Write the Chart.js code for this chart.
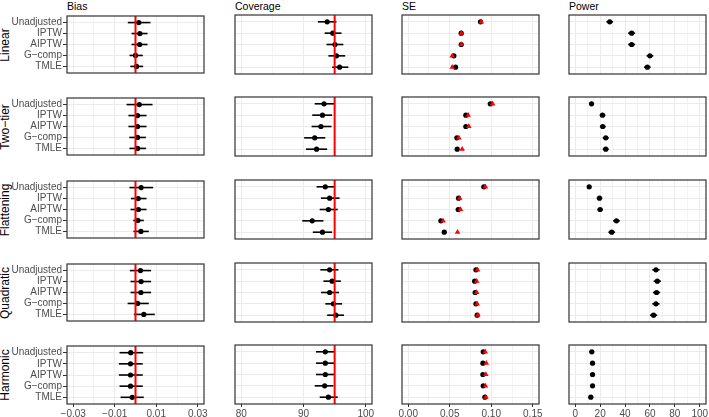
<!DOCTYPE html>
<html>
<head>
<meta charset="utf-8">
<script src="https://cdn.jsdelivr.net/npm/chart.js@4.4.1/dist/chart.umd.min.js"></script>
<style>
  html, body { margin: 0; padding: 0; width: 709px; height: 417px; overflow: hidden; background: #fff; }
  body { position: relative; font-family: "Liberation Sans", Arial, Helvetica, sans-serif; }
  canvas { position: absolute; }
  .colTitle { position: absolute; top: 0; font-size: 10.5px; line-height: 12px; color: #000; white-space: nowrap; }
  .rowTitle { position: absolute; font-size: 12px; line-height: 12px; color: #000; white-space: nowrap;
              transform: translate(-50%, -50%) rotate(-90deg); }
</style>
</head>
<body>
<script>
// categories
const methods = ['Unadjusted', 'IPTW', 'AIPTW', 'G\u2212comp', 'TMLE'];
const scenarios = ['Linear', 'Two\u2212tier', 'Flattening', 'Quadratic', 'Harmonic'];
const metrics = ['Bias', 'Coverage', 'SE', 'Power'];

// Bias (one row per scenario, one value per method)
const biasEst = [
  [0.0016, 0.0021, 0.0020, 0.0000, 0.0005],
  [0.0018, 0.0010, 0.0010, 0.0010, 0.0010],
  [0.0027, 0.0013, 0.0014, 0.0011, 0.0026],
  [0.0024, 0.0027, 0.0026, 0.0010, 0.0040],
  [-0.0023, -0.0024, -0.0024, -0.0024, -0.0016]
];
const biasLo = [
  [-0.0037, -0.0019, -0.0019, -0.0029, -0.0025],
  [-0.0043, -0.0034, -0.0034, -0.0030, -0.0029],
  [-0.0029, -0.0022, -0.0024, -0.0011, -0.0010],
  [-0.0027, -0.0024, -0.0024, -0.0038, -0.0008],
  [-0.0077, -0.0080, -0.0080, -0.0077, -0.0072]
];
const biasHi = [
  [0.0072, 0.0058, 0.0058, 0.0035, 0.0037],
  [0.0082, 0.0053, 0.0053, 0.0050, 0.0051],
  [0.0085, 0.0053, 0.0053, 0.0040, 0.0064],
  [0.0075, 0.0075, 0.0075, 0.0064, 0.0093],
  [0.0037, 0.0035, 0.0035, 0.0035, 0.0040]
];

// Coverage (%)
const covEst = [
  [93.8, 94.7, 95.05, 95.3, 95.8],
  [93.3, 93.05, 92.8, 91.8, 92.1],
  [93.5, 94.2, 94.0, 91.4, 93.05],
  [94.2, 94.6, 94.2, 94.8, 95.2],
  [93.5, 93.5, 93.5, 93.4, 94.0]
];
const covLo = [
  [92.3, 93.4, 93.7, 94.0, 94.6],
  [91.8, 91.4, 91.3, 90.1, 90.4],
  [92.1, 92.8, 92.6, 89.8, 91.5],
  [92.7, 93.2, 92.8, 93.5, 93.8],
  [92.0, 92.0, 92.0, 91.8, 92.6]
];
const covHi = [
  [95.3, 96.1, 96.4, 96.7, 97.2],
  [94.9, 94.6, 94.5, 93.5, 93.8],
  [94.9, 95.8, 95.5, 93.2, 94.6],
  [95.6, 96.0, 95.7, 96.2, 96.5],
  [94.9, 94.9, 94.9, 94.8, 95.5]
];

// SE: empirical (black) and model-based (red)
const seEmp = [
  [0.0870, 0.0638, 0.0638, 0.0550, 0.0570],
  [0.0988, 0.0694, 0.0694, 0.0586, 0.0590],
  [0.0910, 0.0606, 0.0602, 0.0393, 0.0434],
  [0.0815, 0.0800, 0.0806, 0.0815, 0.0830],
  [0.0903, 0.0899, 0.0899, 0.0903, 0.0923]
];
const seModel = [
  [0.0880, 0.0640, 0.0640, 0.0530, 0.0530],
  [0.1016, 0.0722, 0.0730, 0.0610, 0.0650],
  [0.0930, 0.0620, 0.0630, 0.0420, 0.0594],
  [0.0835, 0.0825, 0.0825, 0.0830, 0.0838],
  [0.0927, 0.0940, 0.0935, 0.0930, 0.0935]
];

// Power (%)
const powEst = [
  [27.7, 45.3, 45.3, 60.0, 57.9],
  [13.1, 21.9, 22.1, 24.5, 24.5],
  [11.2, 19.5, 20.0, 33.1, 29.3],
  [64.8, 65.9, 65.3, 64.8, 62.9],
  [13.3, 13.9, 13.9, 13.9, 12.5]
];
const powLo = [
  [25.0, 42.5, 42.5, 57.3, 55.2],
  [11.2, 19.6, 19.8, 22.1, 22.1],
  [9.5, 17.3, 17.8, 30.4, 26.6],
  [61.9, 63.0, 62.4, 61.9, 60.0],
  [11.4, 11.9, 11.9, 11.9, 10.6]
];
const powHi = [
  [30.4, 48.1, 48.1, 62.7, 60.6],
  [15.0, 24.2, 24.4, 26.9, 26.9],
  [12.9, 21.7, 22.2, 35.8, 32.0],
  [67.7, 68.8, 68.2, 67.7, 65.8],
  [15.2, 15.9, 15.9, 15.9, 14.4]
];

// axes: limits, tick values and tick labels ('' = minor grid line only)
const biasRange = [-0.033, 0.033];
const biasTicks = [-0.03, -0.02, -0.01, 0, 0.01, 0.02, 0.03];
const biasTickLabels = ['\u22120.03', '', '\u22120.01', '', '0.01', '', '0.03'];
const covRange = [79, 101];
const covTicks = [80, 85, 90, 95, 100];
const covTickLabels = ['80', '', '90', '', '100'];
const seRange = [-0.0075, 0.1575];
const seTicks = [0, 0.025, 0.05, 0.075, 0.1, 0.125, 0.15];
const seTickLabels = ['0.00', '', '0.05', '', '0.10', '', '0.15'];
const powRange = [-5, 105];
const powTicks = [0, 10, 20, 30, 40, 50, 60, 70, 80, 90, 100];
const powTickLabels = ['0', '', '20', '', '40', '', '60', '', '80', '', '100'];

// reference lines
const biasRef = 0;
const covRef = 95;

// layout of the facet grid (px)
const colLeft = [67, 235, 402, 569];
const rowTop = [15, 97, 180, 263, 345];
const panelW = 137, panelH = 59;
const pad = { left: 12, right: 12, top: 6, bottom: 6 };
const yAxisW = 55, xAxisH = 14;
const yMin = 0.4, yMax = 5.6;

const fontFamily = '"Liberation Sans", Arial, Helvetica, sans-serif';
const majorGrid = '#ebebeb', minorGrid = '#f3f3f3';
const tickText = '#4d4d4d', frame = '#333333';

const panels = [
  { range: biasRange, ticks: biasTicks, labels: biasTickLabels, ref: biasRef, est: biasEst, lo: biasLo, hi: biasHi },
  { range: covRange, ticks: covTicks, labels: covTickLabels, ref: covRef, est: covEst, lo: covLo, hi: covHi },
  { range: seRange, ticks: seTicks, labels: seTickLabels, ref: null, est: seEmp, second: seModel },
  { range: powRange, ticks: powTicks, labels: powTickLabels, ref: null, est: powEst, lo: powLo, hi: powHi }
];

// draws the dark frame round each panel
const panelBorder = {
  id: 'panelBorder',
  afterDraw(chart) {
    const { ctx, chartArea: a } = chart;
    ctx.save();
    ctx.strokeStyle = frame;
    ctx.lineWidth = 1.2;
    ctx.strokeRect(a.left, a.top, a.right - a.left, a.bottom - a.top);
    ctx.restore();
  }
};

function makePanel(r, c) {
  const p = panels[c];
  const firstCol = c === 0;
  const lastRow = r === scenarios.length - 1;
  const yW = firstCol ? yAxisW : 0;
  const xH = lastRow ? xAxisH : 0;

  const canvas = document.createElement('canvas');
  canvas.width = panelW + pad.left + pad.right + yW;
  canvas.height = panelH + pad.top + pad.bottom + xH;
  canvas.style.left = (colLeft[c] - pad.left - yW) + 'px';
  canvas.style.top = (rowTop[r] - pad.top) + 'px';
  document.body.appendChild(canvas);

  const datasets = [];
  if (p.ref !== null) {
    datasets.push({
      data: [{ x: p.ref, y: yMin }, { x: p.ref, y: yMax }],
      showLine: true, borderColor: '#ff0000', borderWidth: 2, pointRadius: 0, order: 0
    });
  }
  if (p.second) {
    datasets.push({
      data: p.second[r].map((v, i) => ({ x: v, y: i + 1 })),
      pointStyle: 'triangle', pointRadius: 3.2, backgroundColor: '#ff0000', borderWidth: 0, order: 1
    });
  }
  datasets.push({
    data: p.est[r].map((v, i) => ({ x: v, y: i + 1 })),
    pointStyle: 'circle', pointRadius: 2.6, backgroundColor: '#000', borderWidth: 0, order: 2
  });
  if (p.lo) {
    p.lo[r].forEach((lo, i) => {
      datasets.push({
        data: [{ x: lo, y: i + 1 }, { x: p.hi[r][i], y: i + 1 }],
        showLine: true, borderColor: '#000', borderWidth: 1.6, pointRadius: 0, order: 3
      });
    });
  }

  new Chart(canvas, {
    type: 'scatter',
    data: { datasets: datasets },
    options: {
      responsive: false,
      animation: false,
      events: [],
      layout: { padding: pad, autoPadding: false },
      plugins: { legend: { display: false }, tooltip: { enabled: false } },
      scales: {
        x: {
          type: 'linear',
          min: p.range[0],
          max: p.range[1],
          afterBuildTicks: s => { s.ticks = p.ticks.map(v => ({ value: v })); },
          afterFit: s => { s.height = xH; },
          border: { display: false },
          grid: {
            color: ctx => p.labels[ctx.index] === '' ? minorGrid : majorGrid,
            lineWidth: 1,
            drawTicks: lastRow,
            tickLength: 3,
            tickColor: ctx => p.labels[ctx.index] === '' ? 'rgba(0,0,0,0)' : frame
          },
          ticks: {
            display: lastRow,
            autoSkip: false,
            maxRotation: 0,
            minRotation: 0,
            padding: 2,
            color: tickText,
            font: { family: fontFamily, size: 10, lineHeight: 1 },
            callback: (v, i) => p.labels[i]
          }
        },
        y: {
          type: 'linear',
          reverse: true,
          min: yMin,
          max: yMax,
          afterBuildTicks: s => { s.ticks = methods.map((m, i) => ({ value: i + 1 })); },
          afterFit: s => { s.width = yW; },
          border: { display: false },
          grid: { color: majorGrid, lineWidth: 1, drawTicks: firstCol, tickLength: 4, tickColor: frame },
          ticks: {
            display: firstCol,
            autoSkip: false,
            padding: 1,
            color: tickText,
            font: { family: fontFamily, size: 10 },
            callback: (v, i) => methods[i]
          }
        }
      }
    },
    plugins: [panelBorder]
  });
}

metrics.forEach((m, c) => {
  const d = document.createElement('div');
  d.className = 'colTitle';
  d.textContent = m;
  d.style.left = colLeft[c] + 'px';
  document.body.appendChild(d);
});

scenarios.forEach((s, r) => {
  const d = document.createElement('div');
  d.className = 'rowTitle';
  d.textContent = s;
  d.style.left = '5px';
  d.style.top = (rowTop[r] + panelH / 2) + 'px';
  document.body.appendChild(d);
  metrics.forEach((m, c) => makePanel(r, c));
});
</script>
</body>
</html>
